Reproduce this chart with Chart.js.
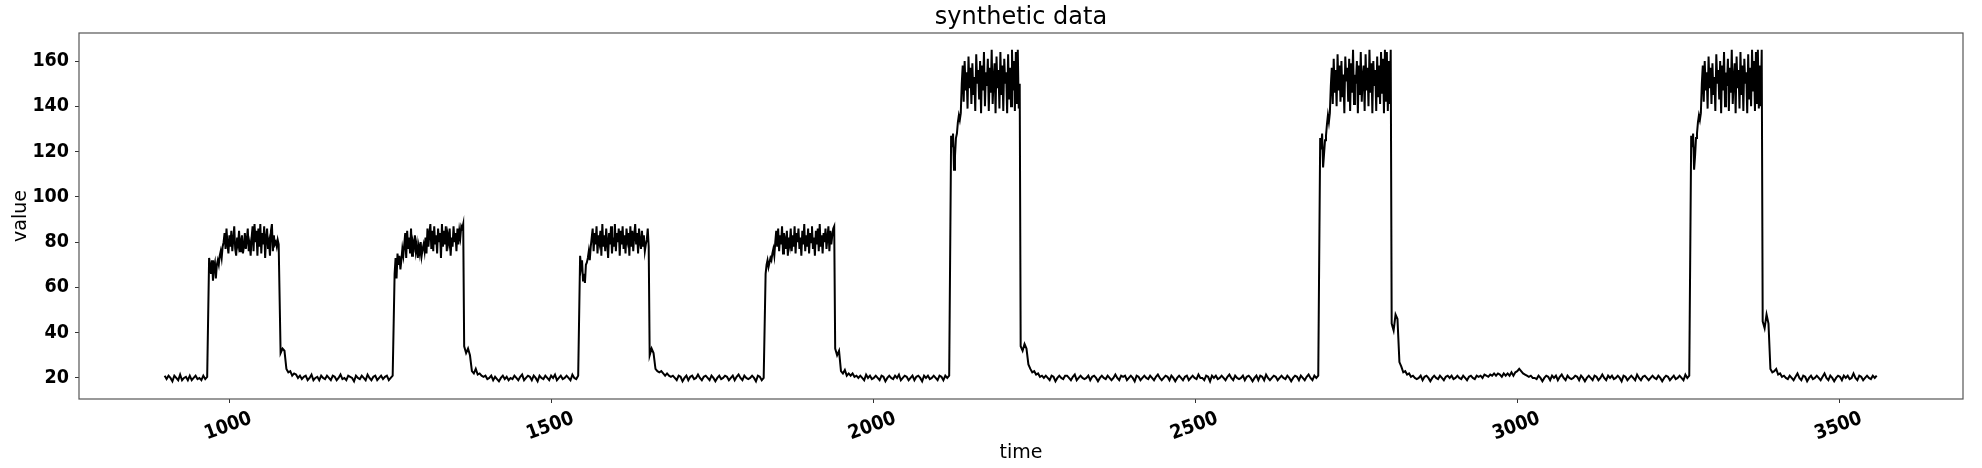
<!DOCTYPE html>
<html>
<head>
<meta charset="utf-8">
<script src="https://cdn.jsdelivr.net/npm/chart.js@4/dist/chart.umd.min.js"></script>
<style>
  html, body { margin: 0; padding: 0; background: #fff; }
  #wrap { width: 1982px; height: 468px; }
</style>
</head>
<body>
<div id="wrap"><canvas id="myChart"></canvas></div>
<script>
// quiet stretches, read every 3 time units
var gap0 = [21,19.5,21,20,18.5,21,20,19,21.5,19,20,20.5,19,21,19,20,21,19.5,20,19,21,19.5,20.5];
var fall1 = [31,33,32];
var gap1 = [24,22.5,23,21,22,21.5,20,21,19.5,20.5, 21,19,20,21.5,19,20,20.5,19,21,20,
            19.5,21,20,19,21,20.5,19,20,21.5,19.5, 20,19,21,20.5,20,18.5,21,20,19.5,21,
            20,19,21.5,20,19,20.5,21,19,20,21, 19.5,20.5,21,19,20,21];
var fall2 = [34,31,33,30];
var gap2 = [23,22,24,21.5,22,21,20.5,21,19.5,20, 21,19,20.5,19.5,18.5,20,21,19.5,20.5,19,
            20,19.5,21,20,19,20.5,21.5,19,20,21, 20.5,19,21,20,18.5,21,20,19.5,21,20,
            19,21,20,21.5,19,20,21,19.5,20,21, 20,19,21.5,20,19.5,21];
var fall3 = [30,33,31];
var gap3 = [24,23,22.5,23,22,21,22,21,20.5,21, 20,19,21,20.5,18.5,20,21,19,20.5,21,
            19.5,20,21.5,20,19,20.5,21,20,19,21, 20,18.5,20,21,19.5,20,21,20.5,19,20,
            21,19,20.5,21.5,20,19,21,20,19.5,20, 21,20,18.5,21,20.5,19,20];
var fall4 = [33,30,32];
var gap4 = [23,22,23.5,21,22,21,22,20.5,21,20, 21,20,19,21.5,20,21,19.5,20,21,20,
            19,21,20.5,18.5,20,21,20,19.5,21,20, 21.5,19,20,21,20.5,19,20,21,19,20.5,
            21,20,18.5,21,20,21,19.5,20,21,20, 19,21,20.5,19,21,20,21];
var fall5 = [34,32,35,33];
var gap5 = [26,24,22.5,23,21.5,22,20.5,21,20,21, 20,19,21,20.5,18.5,20,21,20,19.5,21,
            21,20,19,20.5,21.5,19,20,21,20,19.5, 20,21,19,20.5,21,20,18.5,20,21,20,
            19.5,21,20,19,20,21.5,20,19,21,20.5, 21,19,20,21,20,18.5,21,20.5,19,20,
            21,20,19.5,21,20,19,20.5,21.5,20,19, 20,21,20.5,19,21,20,18.5,20,21,20,
            19,20.5,21,19,20,21,20,19.5,21.5,20, 20,19,21,20.5,18.5,21,20,21,19.5,20,
            21,20,19,20.5,21.5,20,19,21,20,19.5, 20,21,19,20.5,21,20,18.5,20,21,19,
            21,20.5,19,21.5,20,19,20,21,20.5,19, 20,21,20,19.5,21,20,18.5,20,21,20.5,
            19,21,20,19,20.5,21.5,20,19,21,20, 21];
var fall6 = [44,41,48,46];
var gap6 = [27,25,22.5,23,21.5,22,20.5,21,20,19.5, 20,21,19,20.5,21,20,18.5,20,21,20,
            19.5,21,20,19,20.5,21,20,21,19.5,20, 21,20,19.5,21,20,19,20.5,21,20,19.5,
            21,20.5,21,20,21.5,21,20.5,21.5,21,22, 21,22,21.5,20.5,22,21,22,21,22.5,21,
            22.5,23,24,23,22,21.5,21,20.5,21,20, 20,19.5,21,20,18.5,20,21,20.5,19,21,
            20,21,19,20.5,21.5,20,19,21,20,19.5, 20,21,20.5,19,21,20,18.5,20,21,20,
            19,21,20.5,19,20,21.5,20,19,21,20, 21,19.5,20,21,20,18.5,21,20.5,19,20,
            21,20,19,21.5,20,19,20.5,21,20,19, 20,21,20,19.5,21,20,18.5,20,21,20.5,
            19,20,21,19.5,20,21,20,19,21.5,20, 21];
var fall7 = [45,42,48,44];
var gap7 = [24,22.5,23,24,21.5,22,20.5,21,20,19.5, 21,20,19,20.5,22,20,19,21,20.5,18.5,
            20,21,19.5,20,21,20,19,20.5,22,20, 19,21,20,18.5,20,21,20.5,19,21,20,
            21,19.5,20,22,20,19,21,20.5,19,20, 21,20,19.5,21,20,21];

// pulses, read every 1.5 time units
var lowPulse1 = [73,70,66,72,63,69,71,64,70, 72,70,74,76,73,78,
                 80,84,77,86,79,75,83,78,85,76, 81,87,77,74,82,79,85,76,80,83,
                 75,78,84,77,81,86,76,79,74,82, 87,76,88,80,85,74,86,78,88,75,
                 84,79,87,73,82,86,77,80,74,85, 88,76,83,79,80,78,81,79];
var lowPulse2 = [66,73,64,75,70,74,68, 72,77,74,79,
                 84,73,85,77,82,75,86,74,80,78, 83,76,79,73,78,75,80,74,77,79,
                 76,82,75,86,78,84,88,77,85,76, 87,79,83,75,86,80,84,73,88,78,
                 85,79,87,76,83,80,86,74,82,78, 87,80,84,76,86,79,85,82,87,86, 88];
var lowPulse3 = [74,69,72,63,66,62,70,71, 73,76,72,78,
                 82,86,76,84,79,87,75,83,80,85, 74,88,78,83,76,86,80,73,84,79,
                 87,75,82,78,88,76,84,80,86,74, 85,79,87,77,83,75,86,81,84,74,
                 87,78,85,76,83,88,79,84,75,86, 80,77,85,78,83,76,79,81,86,78];
var lowPulse4 = [66,70,72,69,71,73, 72,75,77,74,
                 80,85,78,86,76,83,79,87,75,84, 81,77,85,74,82,79,86,76,83,78,
                 87,75,84,80,86,77,82,74,85,79, 88,76,83,78,86,75,84,80,87,77,
                 82,74,85,79,86,76,88,78,83,75, 84,80,86,77,82,87,76,85,79,83, 86,87];
var highPulse1 = [127,122,128,112,118,126,128, 133,136,134,137,
                  150,158,142,160,147,155,139,162,148,157, 141,159,145,153,138,163,150,156,143,160,
                  137,158,147,164,140,155,149,161,138,157, 146,165,141,152,159,137,162,148,156,139,
                  164,145,158,138,161,150,155,137,163,143, 157,140,165,147,160,138,164,141,165,139, 150];
var highPulse2 = [126,121,128,113,119,125,127, 132,136,133,137,
                  149,157,141,161,146,156,140,163,147,158, 142,160,144,154,137,162,151,157,142,161,
                  138,159,146,165,141,154,150,160,137,158, 145,164,142,153,158,138,163,147,157,140,
                  165,146,159,137,160,149,156,138,162,144, 158,141,164,146,161,137,165,142,164,138,
                  160,141,165];
var highPulse3 = [127,122,128,112,118,126,128, 133,136,134,137,
                  150,158,142,160,147,155,139,162,148,157, 141,159,145,153,138,163,150,156,143,160,
                  137,158,147,164,140,155,149,161,138,157, 146,165,141,152,159,137,162,148,156,139,
                  164,145,158,138,161,150,155,137,163,143, 157,140,165,147,160,138,164,141,165,139,
                  158,140,165];

var pieces = [gap0, lowPulse1, fall1.concat(gap1), lowPulse2, fall2.concat(gap2),
              lowPulse3, fall3.concat(gap3), lowPulse4, fall4.concat(gap4),
              highPulse1, fall5.concat(gap5), highPulse2, fall6.concat(gap6),
              highPulse3, fall7.concat(gap7)];
var pieceStart = [900, 969, 1080, 1257, 1365, 1545, 1653, 1833, 1941, 2121, 2229, 2694, 2805, 3270, 3381];
var pieceStep  = [3, 1.5, 3, 1.5, 3, 1.5, 3, 1.5, 3, 1.5, 3, 1.5, 3, 1.5, 3];

var xTicks = [1000, 1500, 2000, 2500, 3000, 3500];
var yTicks = [20, 40, 60, 80, 100, 120, 140, 160];

var points = [];
for (var p = 0; p < pieces.length; p++) {
    for (var i = 0; i < pieces[p].length; i++) {
        points.push({x: pieceStart[p] + i * pieceStep[p], y: pieces[p][i]});
    }
}

var tickFont = {family: "'DejaVu Sans Condensed', 'Liberation Sans Narrow', 'DejaVu Sans'", size: 19.5, weight: 'bold'};
var labelFont = {family: "'DejaVu Sans'", size: 19};

// matplotlib style box round the plot area
var framePlugin = {
    id: 'frame',
    afterDraw: function(c) {
        var a = c.chartArea, ctx = c.ctx;
        ctx.save();
        ctx.strokeStyle = '#555';
        ctx.lineWidth = 1.2;
        ctx.strokeRect(a.left, a.top, a.right - a.left, a.bottom - a.top);
        ctx.restore();
    }
};

var ctx = document.getElementById('myChart').getContext('2d');
var chart = new Chart(ctx, {
    type: 'line',
    data: {
        datasets: [{
            label: 'value',
            data: points,
            borderColor: '#000',
            borderWidth: 2,
            pointRadius: 0,
            tension: 0,
            fill: false
        }]
    },
    options: {
        responsive: true,
        maintainAspectRatio: false,
        animation: false,
        layout: {padding: {left: 0, right: 19, top: 0, bottom: 0}},
        plugins: {
            legend: {display: false},
            tooltip: {enabled: false},
            title: {
                display: true,
                text: 'synthetic data',
                fullSize: false,
                color: '#000',
                font: {family: "'DejaVu Sans'", size: 24, weight: 'normal'},
                padding: {top: 3, bottom: 1.2}
            }
        },
        scales: {
            x: {
                type: 'linear',
                min: 767,
                max: 3692,
                afterBuildTicks: function(s) {
                    s.ticks = xTicks.map(function(v) { return {value: v}; });
                },
                afterFit: function(s) { s.height = 69; },
                ticks: {
                    minRotation: 20,
                    maxRotation: 20,
                    labelOffset: 22,
                    padding: 4,
                    color: '#000',
                    font: tickFont,
                    callback: function(v) { return String(v); }
                },
                grid: {display: true, drawOnChartArea: false, drawTicks: true, tickLength: 4, tickColor: '#333'},
                border: {display: false},
                title: {display: true, text: 'time', color: '#000', font: labelFont, padding: {top: 0, bottom: 4}}
            },
            y: {
                min: 10.7,
                max: 172.4,
                afterBuildTicks: function(s) {
                    s.ticks = yTicks.map(function(v) { return {value: v}; });
                },
                afterFit: function(s) { s.width = 79; },
                ticks: {
                    padding: 6,
                    color: '#000',
                    font: tickFont,
                    callback: function(v) { return String(v); }
                },
                grid: {display: true, drawOnChartArea: false, drawTicks: true, tickLength: 4, tickColor: '#333'},
                border: {display: false},
                title: {display: true, text: 'value', color: '#000', font: labelFont, padding: {top: 10, bottom: 0}}
            }
        }
    },
    plugins: [framePlugin]
});
</script>
</body>
</html>
